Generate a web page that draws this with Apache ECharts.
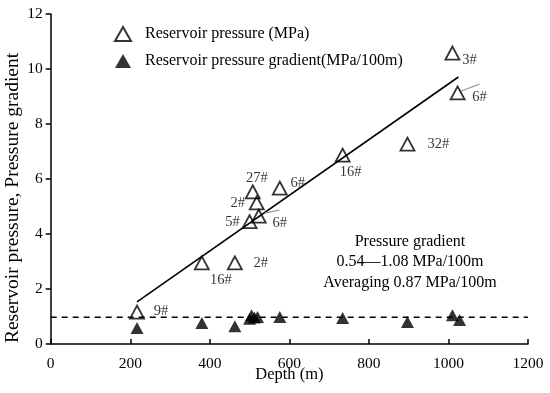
<!DOCTYPE html>
<html><head><meta charset="utf-8">
<script src="https://cdn.jsdelivr.net/npm/echarts@6/dist/echarts.min.js"></script>
<style>html,body{margin:0;padding:0;background:#fff}#c{width:550px;height:393px}</style>
</head><body><div id="c"></div>
<script>
// Reservoir pressure (open triangles)
const presDepth = [217, 380, 463, 500, 523, 518, 508, 576, 734, 897, 1010, 1023];
const presValue = [1.16, 2.95, 2.95, 4.45, 4.65, 5.13, 5.53, 5.67, 6.87, 7.27, 10.58, 9.13];
const presLabel = ['9#', '16#', '2#', '5#', '6#', '2#', '27#', '6#', '16#', '32#', '3#', '6#'];
// Pressure gradient (filled triangles)
const gradDepth = [217, 380, 463, 500, 505, 512, 520, 576, 734, 897, 1010, 1028];
const gradValue = [0.58, 0.76, 0.65, 0.92, 1.05, 0.96, 0.98, 0.98, 0.95, 0.80, 1.05, 0.87];
// Regression line end points and average line
const fitDepth = [217, 1025];
const fitValue = [1.53, 9.71];
const avgDepth = [0, 1200];
const avgValue = [0.97, 0.97];
// Leader lines (gray)
const lead1 = [[1032, 9.2], [1078, 9.45]];
const lead2 = [[538, 4.76], [575, 4.87]];
const xTicks = [0, 200, 400, 600, 800, 1000, 1200];
const yTicks = [0, 2, 4, 6, 8, 10, 12];

// label offsets (layout only)
const labelOffsets = [[24,-1],[19,17],[26,0],[-17,1],[21,7],[-19,0],[4,-14],[18,-5],[8,17],[31,0],[17,7],[22,4]];

const F = '"Liberation Serif","Times New Roman",serif';
const chart = echarts.init(document.getElementById('c'));
const presData = presDepth.map((d, i) => ({
  value: [d, presValue[i]],
  label: { show: true, formatter: presLabel[i], position: 'inside', offset: labelOffsets[i],
           color: '#000', fontFamily: F, fontSize: 14.5 }
}));
chart.setOption({
  animation: false,
  grid: { left: 50.7, right: 22, top: 14, bottom: 49, containLabel: false, outerBoundsMode: 'none' },
  legend: {
    orient: 'vertical', left: 114, top: 26, padding: 0, itemGap: 11, itemWidth: 16, itemHeight: 14,
    textStyle: { fontFamily: F, fontSize: 16, color: '#000', padding: [0,0,0,9] },
    data: [{ name: 'Reservoir pressure (MPa)' }, { name: 'Reservoir pressure gradient(MPa/100m)' }]
  },
  xAxis: {
    type: 'value', min: 0, max: 1200, interval: 200,
    name: 'Depth (m)', nameLocation: 'middle', nameGap: 22, nameMoveOverlap: false,
    nameTextStyle: { fontFamily: F, fontSize: 16.5, color: '#000' },
    axisLine: { show: true, lineStyle: { color: '#000', width: 1.5 } },
    axisTick: { show: true, inside: true, length: 5, lineStyle: { color: '#000', width: 1.5 } },
    axisLabel: { fontFamily: F, fontSize: 15.5, color: '#000', margin: 12, formatter: v => String(v) },
    splitLine: { show: false }
  },
  yAxis: {
    type: 'value', min: 0, max: 12, interval: 2,
    name: 'Reservoir pressure, Pressure gradient', nameLocation: 'middle', nameGap: 28, nameMoveOverlap: false,
    nameTextStyle: { fontFamily: F, fontSize: 19.5, color: '#000', padding: [0,0,0,-38] },
    axisLine: { show: true, lineStyle: { color: '#000', width: 1.5 } },
    axisTick: { show: true, inside: false, length: 5, lineStyle: { color: '#000', width: 1.5 } },
    axisLabel: { fontFamily: F, fontSize: 15.5, color: '#000', margin: 8, formatter: v => String(v) },
    splitLine: { show: false }
  },
  series: [
    { name: 'avg', type: 'line', data: avgDepth.map((d,i)=>[d, avgValue[i]]), symbol: 'none',
      lineStyle: { color: '#000', width: 1.5, type: [6,5] }, silent: true, z: 1 },
    { name: 'fit', type: 'line', data: fitDepth.map((d,i)=>[d, fitValue[i]]), symbol: 'none',
      lineStyle: { color: '#000', width: 1.6 }, silent: true, z: 1 },
    { name: 'lead1', type: 'line', data: lead1, symbol: 'none', lineStyle: { color: '#999', width: 1.2 }, z: 1 },
    { name: 'lead2', type: 'line', data: lead2, symbol: 'none', lineStyle: { color: '#999', width: 1.2 }, z: 1 },
    { name: 'Reservoir pressure (MPa)', type: 'scatter', symbol: 'triangle', symbolSize: [14, 13],
      itemStyle: { color: 'rgba(255,255,255,0)', borderColor: '#000', borderWidth: 1.8 },
      data: presData, z: 3 },
    { name: 'Reservoir pressure gradient(MPa/100m)', type: 'scatter', symbol: 'triangle', symbolSize: [13, 12],
      itemStyle: { color: '#000' },
      data: gradDepth.map((d,i)=>[d, gradValue[i]]), z: 3 }
  ],
  graphic: [
    { type: 'text', x: 410, y: 242, style: { text: 'Pressure gradient', font: '16px ' + F, fill: '#000', align: 'center', verticalAlign: 'middle' } },
    { type: 'text', x: 410, y: 262, style: { text: '0.54\u20141.08 MPa/100m', font: '16px ' + F, fill: '#000', align: 'center', verticalAlign: 'middle' } },
    { type: 'text', x: 410, y: 283, style: { text: 'Averaging 0.87 MPa/100m', font: '16px ' + F, fill: '#000', align: 'center', verticalAlign: 'middle' } }
  ]
});
</script></body></html>
